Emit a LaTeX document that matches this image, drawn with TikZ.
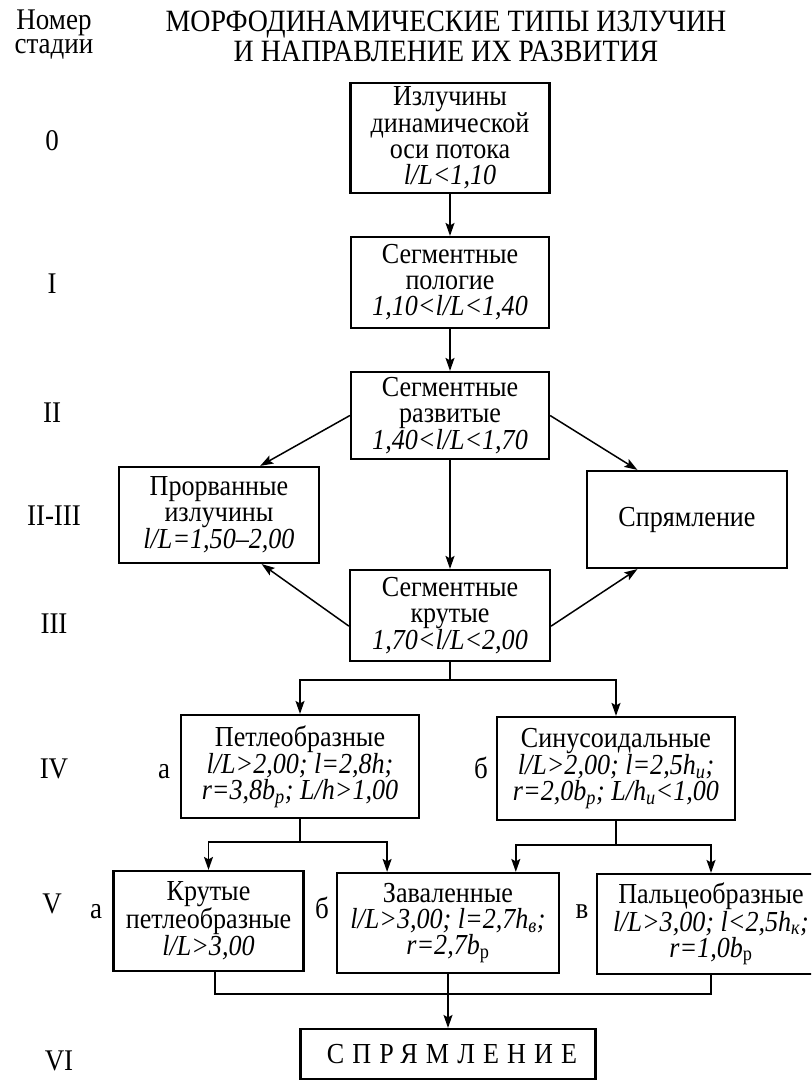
\documentclass[tikz,border=0pt]{standalone}
\usepackage{fontspec}
\setmainfont{Liberation Serif}[FakeStretch=0.9]
\usetikzlibrary{arrows.meta}

\tikzset{
	box/.style={draw, line width=2.2pt, align=center, inner sep=2pt,
		font=\fontsize{29}{26}\selectfont},
	stage/.style={anchor=base, inner sep=0pt, font=\fontsize{30}{30}\selectfont},
	conn/.style={line width=1.5pt},
	arr/.style={conn, -{Stealth[length=13pt, width=9pt, inset=2.5pt]}},
}

\newcommand{\fm}[1]{\textit{#1}}

\begin{document}
\begin{tikzpicture}[x=1pt, y=-1pt]
	\useasboundingbox (0,0) rectangle (811,1081);
	\clip (0,0) rectangle (811,1081);

	% header
	\node[stage] (hd1) at (54,30) {Номер};
	\node[stage] (hd2) at (54,54) {стадии};
	\node[stage, font=\fontsize{31}{31}\selectfont] (tt1) at (446,32) {МОРФОДИНАМИЧЕСКИЕ ТИПЫ ИЗЛУЧИН};
	\node[stage, font=\fontsize{31}{31}\selectfont] (tt2) at (446,62) {И НАПРАВЛЕНИЕ ИХ РАЗВИТИЯ};

	% stages
	\node[stage] (st0) at (52,150) {0};
	\node[stage] (st1) at (52,293) {I};
	\node[stage] (st2) at (52,422) {II};
	\node[stage] (st23) at (54,525) {II-III};
	\node[stage] (st3) at (54,633) {III};
	\node[stage] (st4) at (54,778) {IV};
	\node[stage] (st5) at (52,913) {V};
	\node[stage] (st6) at (59,1070) {VI};

	% boxes
	\node[box, minimum width=199, minimum height=110] (m0) at (450,138)
		{Излучины\\динамической\\оси потока\\\fm{l/L<1,10}};
	\node[box, minimum width=198, minimum height=91] (m1) at (450,282.5)
		{Сегментные\\пологие\\\fm{1,10<l/L<1,40}};
	\node[box, minimum width=198, minimum height=87] (m2) at (450,415.5)
		{Сегментные\\развитые\\\fm{1,40<l/L<1,70}};
	\node[box, minimum width=200, minimum height=96] (pr) at (219,515)
		{Прорванные\\излучины\\\fm{l/L=1,50–2,00}};
	\node[box, minimum width=200, minimum height=97] (sp) at (687,519.5)
		{Спрямление};
	\node[box, minimum width=200, minimum height=91] (m3) at (450,615.5)
		{Сегментные\\крутые\\\fm{1,70<l/L<2,00}};
	\node[box, minimum width=238, minimum height=103] (a4) at (300,766.5)
		{Петлеобразные\\\fm{l/L>2,00; l=2,8h;}\\\fm{r=3,8b\textsubscript{p}; L/h>1,00}};
	\node[box, minimum width=238, minimum height=103] (b4) at (616,768.5)
		{Синусоидальные\\\fm{l/L>2,00; l=2,5h\textsubscript{и};}\\\fm{r=2,0b\textsubscript{p}; L/h\textsubscript{и}<1,00}};
	\node[box, minimum width=190, minimum height=100] (a5) at (208.5,921)
		{Крутые\\петлеобразные\\\fm{l/L>3,00}};
	\node[box, minimum width=222, minimum height=100] (b5) at (448,923)
		{Заваленные\\\fm{l/L>3,00; l=2,7h\textsubscript{в};}\\\fm{r=2,7b\textsubscript{\upshape р}}};
	\node[box, minimum width=228, minimum height=100] (c5) at (711,924)
		{Пальцеобразные\\\fm{l/L>3,00; l<2,5h\textsubscript{к};}\\\fm{r=1,0b\textsubscript{\upshape р}}};
	\node[box, minimum width=295, minimum height=50] (fin) at (448,1054)
		{\kern8pt\addfontfeature{LetterSpace=28}СПРЯМЛЕНИЕ};

	% subtypes
	\node[stage] (la4) at (164,778) {а};
	\node[stage] (lb4) at (481,778) {б};
	\node[stage] (la5) at (96,918) {а};
	\node[stage] (lb5) at (322,918) {б};
	\node[stage] (lc5) at (582,918) {в};

	% connectors
	\draw[arr] (m0.south) -- (m1.north);
	\draw[arr] (m1.south) -- (m2.north);
	\draw[arr] (m2.south) -- (m3.north);
	\draw[arr] (m2.west) -- (pr.50);
	\draw[arr] (m2.east) -- (sp.135);
	\draw[arr] (m3.186) -- (pr.-49);
	\draw[arr] (m3.-6) -- (sp.-135);

	\coordinate (j3) at (450,680);
	\draw[conn] (m3.south) -- (j3);
	\draw[arr] (j3) -| (a4.north);
	\draw[arr] (j3) -| (b4.north);

	\coordinate (j4a) at (300,842);
	\draw[conn] (a4.south) -- (j4a);
	\draw[arr] (j4a) -| (a5.north);
	\draw[arr] (j4a) -| (b5.140);

	\coordinate (j4b) at (616,845);
	\draw[conn] (b4.south) -- (j4b);
	\draw[arr] (j4b) -| (b5.37);
	\draw[arr] (j4b) -| (c5.north);

	\coordinate (j5) at (448,994);
	\draw[conn] (a5.-83) |- (j5);
	\draw[conn] (c5.south) |- (j5);
	\draw[arr] (b5.south) -- (fin.north);
\end{tikzpicture}
\end{document}
